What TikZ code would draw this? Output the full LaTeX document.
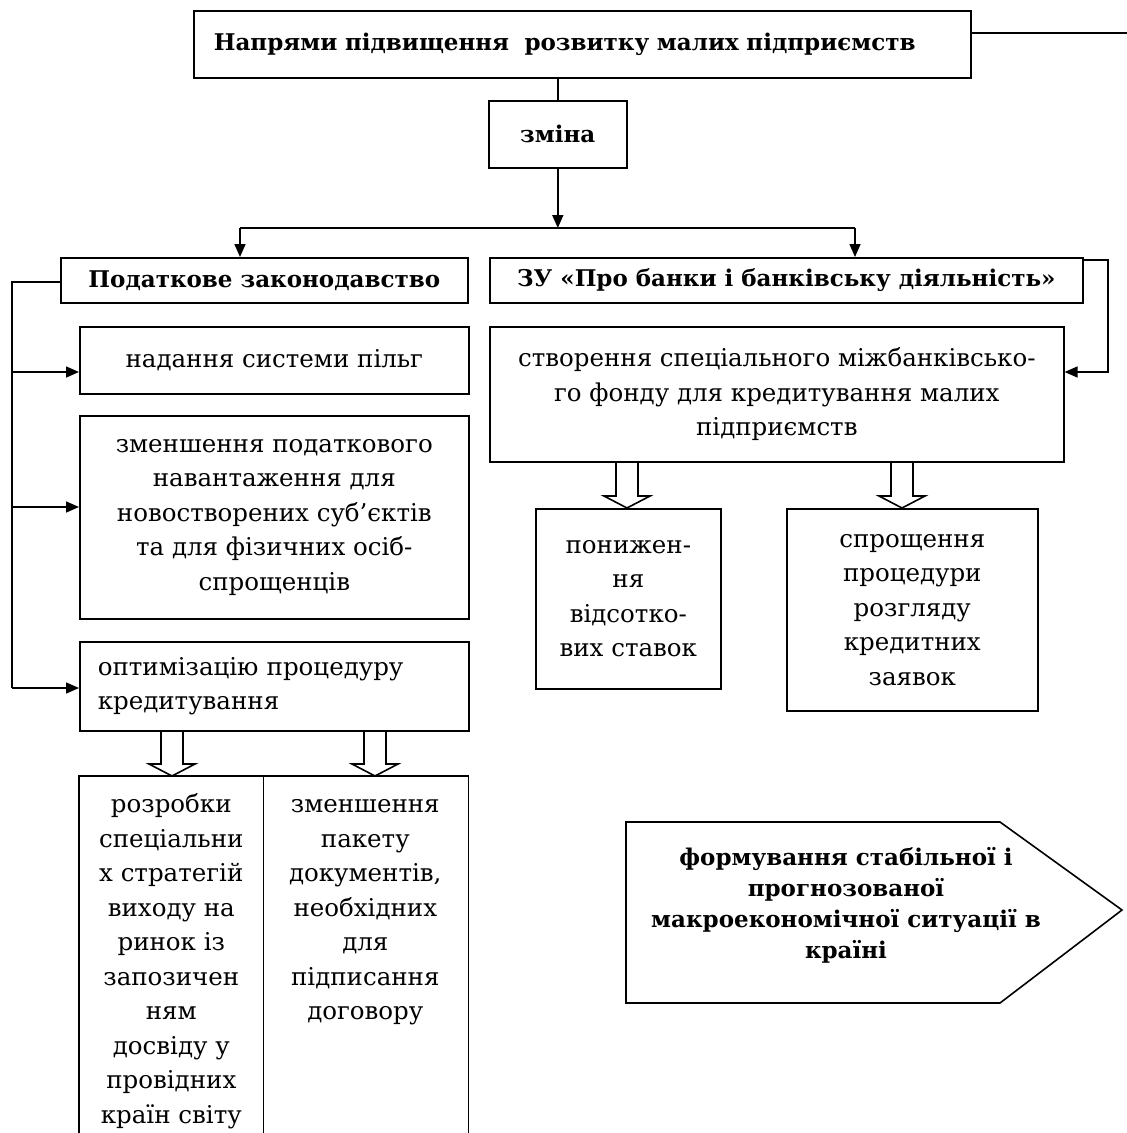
\documentclass[tikz,border=0pt]{standalone}
\usepackage{fontspec}
\setmainfont{DejaVu Serif}
\usetikzlibrary{arrows.meta,calc}
\newcommand{\regtxt}{\fontsize{24.5}{34.5}\selectfont}
\newcommand{\boldtxt}{\bfseries\fontsize{23}{30}\selectfont}
\newcommand{\goaltxt}{\bfseries\fontsize{23}{31}\selectfont}
% hollow arrow: shaft x, upper node, lower node
\newcommand{\fatarrow}[3]{%
  \draw[fat] ($(#2.south -| #1,0)+(-11,0)$) -- ($(#3.north -| #1,0)+(-11,-12)$)
    -- ++(-12,0) -- (#3.north -| #1,0) -- ($(#3.north -| #1,0)+(23,-12)$)
    -- ++(-12,0) -- ($(#2.south -| #1,0)+(11,0)$);}

\begin{document}
\begin{tikzpicture}[x=1pt, y=-1pt, line width=1.6pt,
    >={Triangle[length=13pt,width=11pt]},
    box/.style={draw, anchor=north west, inner sep=0pt, align=center, font=\regtxt},
    head/.style={box, font=\boldtxt},
    txt/.style={align=center, inner sep=0pt, font=\regtxt},
    fat/.style={line width=1.6pt}]
  \useasboundingbox (0,0) rectangle (1127,1133);

  \node[head, text width=737, inner xsep=20, minimum height=67, align=left] (title) at (193,10)
    {Напрями підвищення\ \ розвитку малих підприємств};
  \node[head, minimum width=138, minimum height=67] (zmina) at (488,100) {зміна};
  \node[head, minimum width=407, minimum height=45] (podat) at (60,257) {Податкове законодавство};
  \node[head, minimum width=593, minimum height=45] (zu) at (489,257)
    {ЗУ «Про банки і банківську діяльність»};

  % left column
  \node[box, minimum width=389, minimum height=67] (nad) at (79,326) {надання системи пільг};
  \node[box, minimum width=389, minimum height=203] (zmen) at (79,415)
    {зменшення податкового\\навантаження для\\новостворених суб’єктів\\та для фізичних осіб-\\спрощенців};
  \node[box, text width=353, inner xsep=18, minimum height=89, align=left] (opt) at (79,641)
    {оптимізацію процедуру\\кредитування};
  \node[anchor=north west, minimum width=183, minimum height=357, inner sep=0pt] (rozr) at (79,776) {};
  \node[anchor=north west, minimum width=205, minimum height=357, inner sep=0pt] (pak) at (262,776) {};
  \node[txt, anchor=north] (rozrtxt) at ($(rozr.north)+(0,12)$)
    {\strut розробки\\спеціальни\\х стратегій\\виходу на\\ринок із\\запозичен\\ням\\досвіду у\\провідних\\країн світу};
  \node[txt, anchor=north] (paktxt) at ($(pak.north)+(0,12)$)
    {\strut зменшення\\пакету\\документів,\\необхідних\\для\\підписання\\договору};

  % right column
  \node[box, minimum width=574, minimum height=135] (crt) at (489,326)
    {створення спеціального міжбанківсько-\\го фонду для кредитування малих\\підприємств};
  \node[box, minimum width=185, minimum height=180] (pon) at (535,508)
    {понижен-\\ня\\відсотко-\\вих ставок};
  \node[box, minimum width=251, minimum height=202] (spr) at (786,508)
    {спрощення\\процедури\\розгляду\\кредитних\\заявок};

  \node[font=\goaltxt, align=center, inner sep=0pt] (goal) at (846,905)
    {формування стабільної і\\прогнозованої\\макроекономічної ситуації в\\країні};
  \draw (626,822) -- (1000,822) -- (1122,910) -- (1000,1003) -- (626,1003) -- cycle;

  % connectors
  \coordinate (edge) at (1127,33);
  \coordinate (brL) at (240,228);
  \coordinate (brR) at (855,228);
  \coordinate (spine) at (12,282);
  \coordinate (loopR) at (1108,372);
  \draw (title.east |- edge) -- (edge);
  \draw (zmina.north) -- (zmina.north |- title.south);
  \draw[->] (zmina.south) -- (zmina.south |- brL);
  \draw (brL) -- (brR);
  \draw[->] (brL) -- (brL |- podat.north);
  \draw[->] (brR) -- (brR |- zu.north);
  \draw (podat.west |- spine) -- (spine) -- (spine |- 0,688);
  \draw[->] (spine |- 0,372) -- (nad.west |- 0,372);
  \draw[->] (spine |- 0,507) -- (zmen.west |- 0,507);
  \draw[->] (spine |- 0,688) -- (opt.west |- 0,688);
  \draw[->] ([yshift=-3pt]zu.north east) -| (loopR) -- (loopR -| crt.east);

  \fatarrow{172}{opt}{rozr}
  \fatarrow{375}{opt}{pak}
  \fatarrow{627}{crt}{pon}
  \fatarrow{902}{crt}{spr}
  \draw (rozr.south west) -- (rozr.north west) -- (pak.north east) -- (pak.south east);
  \draw (rozr.north east) -- (rozr.south east);
\end{tikzpicture}
\end{document}
